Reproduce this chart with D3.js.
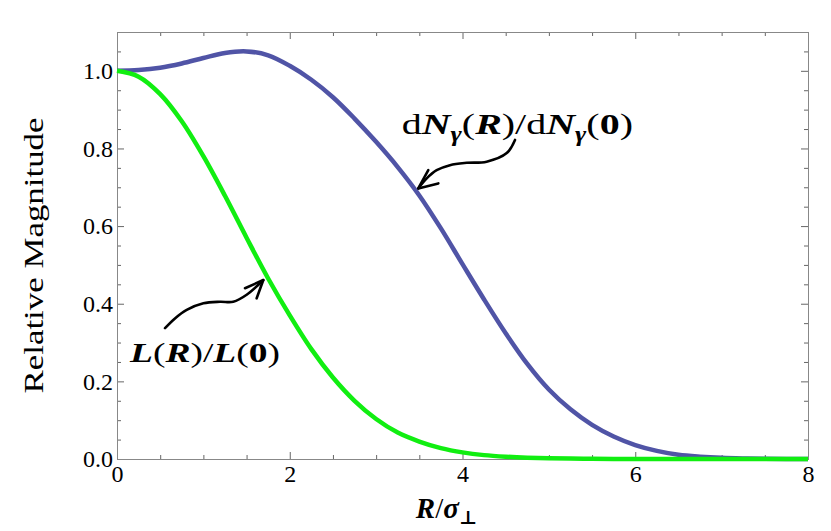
<!DOCTYPE html>
<html>
<head>
<meta charset="utf-8">
<script src="https://cdn.jsdelivr.net/npm/d3@7"></script>
<style>
  body { margin: 0; background: #fff; }
  svg { display: block; font-family: "Liberation Serif", "DejaVu Serif", serif; }
</style>
</head>
<body>
<svg id="chart" width="831" height="531"></svg>
<script>
// R / sigma_perp sample points
const radius = [0, 0.25, 0.5, 0.75, 1, 1.25, 1.5, 1.75, 2, 2.25, 2.5, 2.75, 3, 3.25, 3.5, 3.75,
  4, 4.25, 4.5, 4.75, 5, 5.25, 5.5, 5.75, 6, 6.25, 6.5, 6.75, 7, 7.25, 7.5, 7.75, 8];

// dN_gamma(R) / dN_gamma(0)
const photonYield = [1.000, 1.002, 1.008, 1.019, 1.033, 1.046, 1.050, 1.040, 1.013, 0.977, 0.932, 0.877, 0.817,
  0.752, 0.679, 0.594, 0.502, 0.411, 0.324, 0.245, 0.179, 0.128, 0.088, 0.058, 0.036, 0.021, 0.011,
  0.006, 0.003, 0.0015, 0.0007, 0.0003, 0.0001];

// L(R) / L(0)
const luminosity = [1.000, 0.985, 0.940, 0.870, 0.780, 0.678, 0.570, 0.465, 0.370, 0.283, 0.210, 0.150, 0.103,
  0.068, 0.045, 0.028, 0.017, 0.010, 0.006, 0.0035, 0.002, 0.001, 0.0005, 0.0003, 0.0001, 0, 0,
  0, 0, 0, 0, 0, 0];

const xMajorTicks = [0, 2, 4, 6, 8];
const xMinorTicks = [0.5, 1, 1.5, 2.5, 3, 3.5, 4.5, 5, 5.5, 6.5, 7, 7.5];
const yMajorTicks = [0, 0.2, 0.4, 0.6, 0.8, 1.0];
const yMinorTicks = [0.05, 0.1, 0.15, 0.25, 0.3, 0.35, 0.45, 0.5, 0.55, 0.65, 0.7, 0.75,
  0.85, 0.9, 0.95, 1.05];

// hand-drawn annotation arrows, in data units
const photonArrow = [[4.608, 0.822], [4.512, 0.788], [4.280, 0.766], [4.049, 0.763], [3.855, 0.757],
  [3.701, 0.744], [3.586, 0.723], [3.488, 0.697]];
const photonArrowHead = [[3.604, 0.744], [3.488, 0.697], [3.720, 0.710]];
const lumArrow = [[0.556, 0.337], [0.671, 0.362], [0.807, 0.384], [1.000, 0.401], [1.192, 0.405],
  [1.346, 0.405], [1.501, 0.423], [1.694, 0.461]];
const lumArrowHead = [[1.482, 0.440], [1.694, 0.461], [1.617, 0.414]];

const margin = { top: 32, right: 23, bottom: 72, left: 117 };
const width = 831;
const height = 531;

const svg = d3.select("#chart");

const x = d3.scaleLinear()
  .domain([0, 8])
  .range([margin.left, width - margin.right]);

const y = d3.scaleLinear()
  .domain([0, 1.1])
  .range([height - margin.bottom, margin.top]);

const x0 = x.range()[0], x1 = x.range()[1];
const y0 = y.range()[0], y1 = y.range()[1];

// ---------- frame + ticks ----------

function styleAxis(g) {
  g.attr("font-family", null).attr("font-size", null);
  g.select(".domain").remove();
  g.selectAll(".tick line").attr("stroke", "#666");
}

function tickAxis(axis, values, size, transform, labels) {
  const a = axis.tickValues(values).tickSizeInner(-size).tickSizeOuter(0).tickPadding(6);
  if (!labels) a.tickFormat("");
  const g = svg.append("g")
    .attr("transform", transform)
    .call(a)
    .call(styleAxis);
  g.selectAll("text")
    .style("font-family", "'Liberation Serif', serif")
    .style("font-size", "24px")
    .attr("fill", "#000");
  return g;
}

// bottom
tickAxis(d3.axisBottom(x), xMinorTicks, 4, `translate(0,${y0})`, false);
const xAxis = tickAxis(d3.axisBottom(x).tickFormat(d3.format("d")), xMajorTicks, 7, `translate(0,${y0})`, true);
xAxis.selectAll("text").attr("y", 5).attr("dy", "0.75em");
// top
tickAxis(d3.axisTop(x), xMinorTicks, 4, `translate(0,${y1})`, false);
tickAxis(d3.axisTop(x), xMajorTicks, 7, `translate(0,${y1})`, false);
// left
tickAxis(d3.axisLeft(y), yMinorTicks, 4, `translate(${x0},0)`, false);
const yAxis = tickAxis(d3.axisLeft(y).tickFormat(d3.format(".1f")), yMajorTicks, 7, `translate(${x0},0)`, true);
yAxis.selectAll("text").attr("x", -4).attr("dy", "0.32em");
// right
tickAxis(d3.axisRight(y), yMinorTicks, 4, `translate(${x1},0)`, false);
tickAxis(d3.axisRight(y), yMajorTicks, 7, `translate(${x1},0)`, false);

svg.append("rect")
  .attr("x", x0 + 0.5)
  .attr("y", y1 + 0.5)
  .attr("width", x1 - x0)
  .attr("height", y0 - y1)
  .attr("fill", "none")
  .attr("stroke", "#888")
  .attr("stroke-width", 1);

// ---------- curves ----------

const line = d3.line()
  .x(d => x(d[0]))
  .y(d => y(d[1]))
  .curve(d3.curveCatmullRom.alpha(0.5));

svg.append("path")
  .datum(radius.map((r, i) => [r, photonYield[i]]))
  .attr("fill", "none")
  .attr("stroke", "#5054a6")
  .attr("stroke-width", 4.5)
  .attr("d", line);

svg.append("path")
  .datum(radius.map((r, i) => [r, luminosity[i]]))
  .attr("fill", "none")
  .attr("stroke", "#11ee11")
  .attr("stroke-width", 4.5)
  .attr("d", line);

// ---------- annotations ----------

const arrowLine = d3.line()
  .x(d => x(d[0]))
  .y(d => y(d[1]))
  .curve(d3.curveCatmullRom);

const headLine = d3.line()
  .x(d => x(d[0]))
  .y(d => y(d[1]));

[[photonArrow, photonArrowHead], [lumArrow, lumArrowHead]].forEach(([shaft, head]) => {
  svg.append("path")
    .datum(shaft)
    .attr("fill", "none")
    .attr("stroke", "#000")
    .attr("stroke-width", 2.6)
    .attr("stroke-linecap", "round")
    .attr("d", arrowLine);
  svg.append("path")
    .datum(head)
    .attr("fill", "none")
    .attr("stroke", "#000")
    .attr("stroke-width", 2.6)
    .attr("stroke-linecap", "round")
    .attr("stroke-linejoin", "round")
    .attr("d", headLine);
});

function mathLabel(parts, left, right, baseline, size) {
  const t = svg.append("text")
    .attr("x", x(left))
    .attr("y", y(baseline))
    .attr("font-size", size)
    .attr("textLength", x(right) - x(left))
    .attr("lengthAdjust", "spacingAndGlyphs");
  parts.forEach(p => {
    const s = t.append("tspan").text(p.t);
    if (p.b) s.attr("font-weight", "bold");
    if (p.i) s.attr("font-style", "italic");
    if (p.sub) s.attr("font-size", size * 0.68).attr("dy", size * 0.22);
    if (p.up) s.attr("dy", -size * 0.22);
  });
  return t;
}

mathLabel([
  { t: "d" }, { t: "N", b: 1, i: 1 }, { t: "γ", b: 1, i: 1, sub: 1 }, { t: "(", up: 1 },
  { t: "R", b: 1, i: 1 }, { t: ")/d" }, { t: "N", b: 1, i: 1 }, { t: "γ", b: 1, i: 1, sub: 1 },
  { t: "(", up: 1 }, { t: "0", b: 1 }, { t: ")" }
], 3.296, 5.974, 0.837, 30);

mathLabel([
  { t: "L", b: 1, i: 1 }, { t: "(" }, { t: "R", b: 1, i: 1 }, { t: ")/" },
  { t: "L", b: 1, i: 1 }, { t: "(" }, { t: "0", b: 1 }, { t: ")" }
], 0.1505, 1.887, 0.25, 28);

// ---------- axis titles ----------

svg.append("text")
  .attr("transform", `translate(43,${(y0 + y1) / 2 + 10}) rotate(-90)`)
  .attr("text-anchor", "middle")
  .attr("font-size", 28)
  .attr("textLength", 276)
  .attr("lengthAdjust", "spacingAndGlyphs")
  .text("Relative Magnitude");

const xTitle = svg.append("text")
  .attr("x", (x0 + x1) / 2 - 16)
  .attr("y", 518)
  .attr("text-anchor", "middle")
  .attr("font-size", 29);
xTitle.append("tspan").attr("font-weight", "bold").attr("font-style", "italic").text("R");
xTitle.append("tspan").text("/");
xTitle.append("tspan").attr("font-weight", "bold").attr("font-style", "italic").text("σ");
xTitle.append("tspan").attr("font-size", 19).attr("dy", 6).attr("font-weight", "bold").text("⊥");
</script>
</body>
</html>
